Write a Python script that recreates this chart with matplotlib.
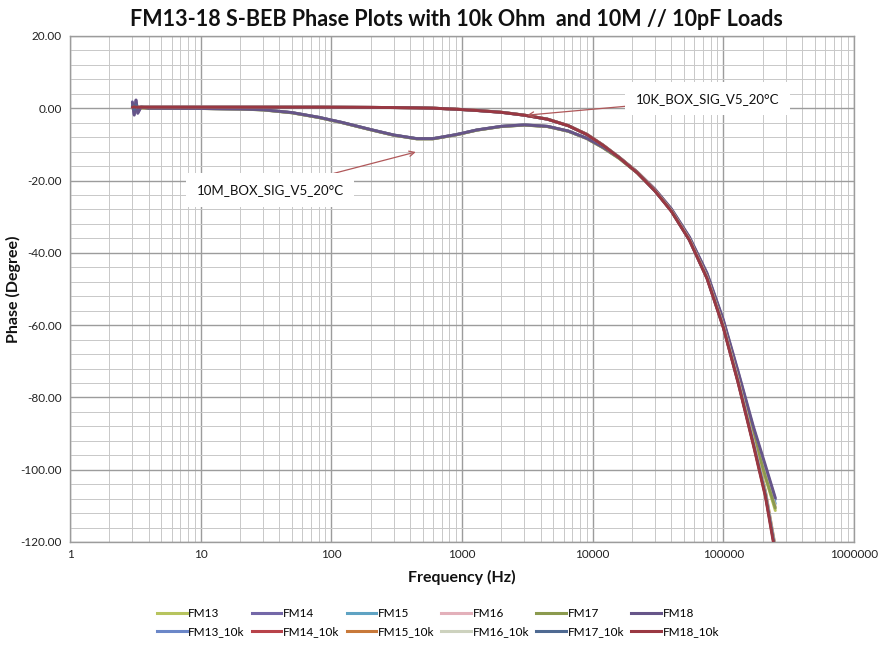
import matplotlib
matplotlib.use("Agg")
import matplotlib.pyplot as plt
from matplotlib.ticker import FixedLocator, MultipleLocator, FuncFormatter
from matplotlib.lines import Line2D

plt.rcParams['font.family'] = ['Lato', 'DejaVu Sans']

# Frequency points (Hz) shared by every sweep
freq = [3.0, 3.1, 3.2, 3.3, 3.5, 4, 6, 10, 20, 30, 50, 80, 120, 200, 300, 450,
        600, 900, 1300, 2000, 3000, 4500, 6500, 9000, 12000, 16000, 22000,
        30000, 40000, 55000, 75000, 100000, 130000, 170000, 210000, 250000]

# 10M // 10pF load sweeps (phase, degrees)
fm13 = [0.4, -0.6, 0.8, -0.3, 0.1, 0.0, -0.02, -0.06, -0.2, -0.45, -1.25, -2.55, -3.95, -5.95, -7.45, -8.45,
        -8.45, -7.35, -6.05, -5.05, -4.65, -5.05, -6.35, -8.35, -10.9, -13.9, -17.9,
        -22.8, -28.3, -36.2, -46.6, -59.8, -74.6, -90.6, -102.2, -111.3]
fm14 = [1.8, -1.7, 2.2, -1.2, 0.3, 0.0, -0.02, -0.05, -0.2, -0.4, -1.2, -2.5, -3.9, -5.9, -7.4, -8.4,
        -8.4, -7.3, -6.0, -5.0, -4.6, -5.0, -6.3, -8.3, -10.8, -13.7, -17.7,
        -22.5, -27.9, -35.7, -45.8, -58.8, -73.2, -88.6, -99.4, -108.2]
fm15 = [0.6, -0.9, 1.1, -0.5, 0.2, 0.0, -0.02, -0.05, -0.2, -0.42, -1.22, -2.52, -3.92, -5.92, -7.42, -8.42,
        -8.42, -7.32, -6.02, -5.02, -4.62, -5.02, -6.32, -8.32, -10.85, -13.8, -17.8,
        -22.6, -28.1, -35.9, -46.1, -59.2, -73.8, -89.5, -100.7, -109.4]
fm16 = [0.5, -0.7, 0.9, -0.4, 0.1, 0.0, -0.02, -0.06, -0.21, -0.44, -1.24, -2.54, -3.94, -5.94, -7.44, -8.44,
        -8.44, -7.34, -6.04, -5.04, -4.64, -5.04, -6.34, -8.34, -10.9, -13.85, -17.85,
        -22.7, -28.2, -36.1, -46.4, -59.5, -74.3, -90.1, -101.5, -110.2]
fm17 = [0.5, -0.8, 1.0, -0.4, 0.1, 0.0, -0.02, -0.06, -0.21, -0.45, -1.25, -2.55, -3.95, -5.95, -7.45, -8.45,
        -8.45, -7.35, -6.05, -5.05, -4.65, -5.05, -6.35, -8.35, -10.9, -13.9, -17.9,
        -22.75, -28.25, -36.2, -46.5, -59.7, -74.5, -90.4, -101.9, -110.6]
fm18 = [1.6, -1.9, 2.3, -1.4, 0.4, 0.0, -0.02, -0.05, -0.19, -0.39, -1.18, -2.48, -3.88, -5.88, -7.38, -8.38,
        -8.38, -7.28, -5.98, -4.98, -4.58, -4.98, -6.28, -8.28, -10.75, -13.65, -17.65,
        -22.4, -27.8, -35.6, -45.6, -58.5, -72.9, -88.1, -98.8, -107.8]

# 10k Ohm load sweeps (phase, degrees)
fm13_10k = [0.3, 0.2, 0.4, 0.3, 0.3, 0.3, 0.3, 0.3, 0.3, 0.3, 0.3, 0.3, 0.28, 0.25, 0.2, 0.12,
            0.03, -0.25, -0.6, -1.1, -1.9, -3.0, -4.8, -7.2, -10.2, -13.6, -17.8,
            -22.8, -28.3, -36.3, -46.8, -60.3, -75.5, -92.5, -106.5, -122.0]
fm14_10k = [0.3, 0.4, 0.2, 0.3, 0.3, 0.3, 0.3, 0.3, 0.3, 0.3, 0.3, 0.3, 0.28, 0.25, 0.2, 0.12,
            0.03, -0.25, -0.6, -1.1, -1.9, -3.0, -4.8, -7.2, -10.2, -13.6, -17.8,
            -22.8, -28.4, -36.4, -47.0, -60.6, -75.9, -93.0, -107.1, -122.6]
fm15_10k = [0.3, 0.3, 0.3, 0.3, 0.3, 0.3, 0.3, 0.3, 0.3, 0.3, 0.3, 0.3, 0.28, 0.25, 0.2, 0.12,
            0.03, -0.24, -0.58, -1.08, -1.88, -2.98, -4.78, -7.15, -10.15, -13.55, -17.7,
            -22.7, -28.2, -36.2, -46.6, -60.0, -75.1, -92.0, -105.9, -121.4]
fm16_10k = [0.3, 0.3, 0.3, 0.3, 0.3, 0.3, 0.3, 0.3, 0.3, 0.3, 0.3, 0.3, 0.28, 0.25, 0.2, 0.12,
            0.03, -0.25, -0.6, -1.1, -1.9, -3.0, -4.8, -7.2, -10.2, -13.6, -17.8,
            -22.8, -28.3, -36.3, -46.8, -60.2, -75.4, -92.3, -106.3, -121.8]
fm17_10k = [0.6, -0.3, 0.9, 0.1, 0.3, 0.3, 0.3, 0.3, 0.3, 0.3, 0.3, 0.3, 0.28, 0.25, 0.2, 0.12,
            0.03, -0.26, -0.62, -1.12, -1.92, -3.02, -4.82, -7.25, -10.25, -13.65, -17.85,
            -22.9, -28.4, -36.5, -47.0, -60.5, -75.8, -92.8, -106.8, -122.3]
fm18_10k = [0.3, 0.4, 0.3, 0.3, 0.3, 0.3, 0.3, 0.3, 0.3, 0.3, 0.3, 0.3, 0.28, 0.25, 0.2, 0.12,
            0.03, -0.26, -0.62, -1.12, -1.92, -3.02, -4.82, -7.25, -10.25, -13.7, -17.9,
            -22.9, -28.5, -36.5, -47.1, -60.7, -76.1, -93.3, -107.5, -123.2]

series_names = ['FM13', 'FM14', 'FM15', 'FM16', 'FM17', 'FM18',
                'FM13_10k', 'FM14_10k', 'FM15_10k', 'FM16_10k', 'FM17_10k', 'FM18_10k']
series_values = [fm13, fm14, fm15, fm16, fm17, fm18,
                 fm13_10k, fm14_10k, fm15_10k, fm16_10k, fm17_10k, fm18_10k]
series_colors = ['#B7C45E', '#7468A8', '#5FA3C3', '#E3B0BA', '#8B9A4E', '#665589',
                 '#6B87C8', '#B8434A', '#C8793A', '#CDD2BE', '#4F6A92', '#9A3842']

y_ticks = [20, 0, -20, -40, -60, -80, -100, -120]
x_ticks = [1, 10, 100, 1000, 10000, 100000, 1000000]

fig = plt.figure(figsize=(8.8, 6.48), dpi=100)
ax = fig.add_axes([70 / 880, 1 - 542 / 648, (854 - 70) / 880, (542 - 36) / 648])

for name, vals, col in zip(series_names, series_values, series_colors):
    ax.plot(freq, vals, color=col, lw=2.1, solid_capstyle='round', label=name, zorder=3)

ax.set_xscale('log')
ax.set_xlim(1, 1e6)
ax.set_ylim(-120, 20)
ax.xaxis.set_major_locator(FixedLocator(x_ticks))
ax.xaxis.set_minor_locator(FixedLocator([m * 10 ** e for e in range(6) for m in range(2, 10)]))
ax.xaxis.set_major_formatter(FuncFormatter(lambda v, p: f"{v:.0f}"))
ax.xaxis.set_minor_formatter(FuncFormatter(lambda v, p: ""))
ax.yaxis.set_major_locator(FixedLocator(y_ticks))
ax.yaxis.set_minor_locator(MultipleLocator(4))
ax.yaxis.set_major_formatter(FuncFormatter(lambda v, p: f"{v:.2f}"))

ax.grid(which='major', color='#9C9C9C', lw=1.0)
ax.grid(which='minor', color='#C8C8C8', lw=0.7)
ax.set_axisbelow(True)
for s in ax.spines.values():
    s.set_color('#9C9C9C')
    s.set_linewidth(1.0)

ax.tick_params(which='both', length=0, labelsize=8.5, labelcolor='#222222')
ax.tick_params(axis='y', pad=6)
ax.tick_params(axis='x', pad=5)

ax.set_xlabel('Frequency (Hz)', fontsize=11.5, fontweight='bold', color='#111111')
ax.set_ylabel('Phase (Degree)', fontsize=11.5, fontweight='bold', color='#111111',
              va='center')
ax.xaxis.set_label_coords(0.5, -0.055)
ax.yaxis.set_label_coords(-(70 - 13) / (854 - 70), 0.5)

fig.text(456 / 880, 1 - 19 / 648,
         'FM13-18 S-BEB Phase Plots with 10k Ohm  and 10M // 10pF Loads',
         ha='center', va='center', fontsize=15.5, fontweight='bold', color='#111111')

box = dict(boxstyle='square,pad=0.8', fc='white', ec='none')
arrow = dict(arrowstyle='->', color='#B0585A', lw=0.9, shrinkA=0, shrinkB=0)
ax.annotate('10K_BOX_SIG_V5_20°C', xy=(3150, -1.9), xytext=(76000, 2.6),
            ha='center', va='center', fontsize=9.5, color='#111111',
            bbox=box, arrowprops=arrow, zorder=5)
ax.annotate('10M_BOX_SIG_V5_20°C', xy=(443, -12.1), xytext=(34, -22.6),
            ha='center', va='center', fontsize=9.5, color='#111111',
            bbox=box, arrowprops=arrow, zorder=5)

# Two legend rows: 10M sweeps on top, 10k sweeps underneath
handles = []
labels = []
for i in range(6):
    for j in (i, i + 6):
        handles.append(Line2D([0], [0], color=series_colors[j], lw=2.2))
        labels.append(series_names[j])
fig.legend(handles, labels, ncol=6, loc='center', bbox_to_anchor=(438 / 880, 1 - 623 / 648),
           frameon=False, fontsize=8.5, handlelength=2.5, handletextpad=0.15,
           columnspacing=0.6, labelspacing=0.6)

fig.savefig('out.png', dpi=100, facecolor='white')
